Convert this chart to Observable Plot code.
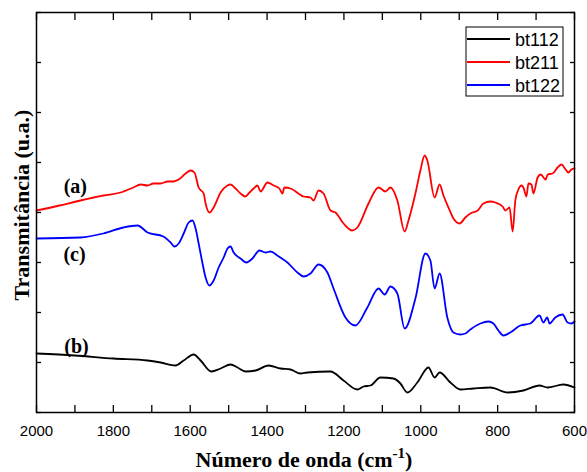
<!DOCTYPE html>
<html><head><meta charset="utf-8">
<script src="https://cdn.jsdelivr.net/npm/d3@7"></script>
<script src="https://cdn.jsdelivr.net/npm/@observablehq/plot@0.6"></script>
<style>body{margin:0;background:#fff}</style>
</head><body><div id="chart"></div>
<script>
// bt112 (black)
const wn112 = [2000,1901,1800,1711,1677,1638,1617,1591,1573,1545,1521,1495,1477,1456,1430,1396,1365,1339,1313,1295,1235,1201,1165,1149,1131,1105,1071,1053,1035,1009,980,964,951,923,897,863,819,774,733,691,670,629,600];
const t112  = [1.18,1.14,1.08,1.04,1.00,0.94,1.04,1.16,1.04,0.82,0.88,0.96,0.90,0.82,0.84,0.94,0.88,0.86,0.78,0.80,0.82,0.64,0.46,0.52,0.54,0.70,0.68,0.58,0.40,0.60,0.90,0.70,0.80,0.60,0.46,0.48,0.50,0.40,0.44,0.54,0.50,0.56,0.50];
// bt211 (red)
const wn211 = [2000,1940,1886,1826,1781,1748,1729,1711,1696,1677,1659,1643,1630,1612,1599,1589,1578,1565,1560,1550,1539,1521,1503,1495,1482,1469,1456,1448,1435,1425,1417,1399,1383,1368,1360,1355,1339,1305,1287,1279,1266,1253,1235,1222,1201,1178,1165,1136,1110,1092,1079,1061,1042,1032,1014,1001,990,983,964,951,941,928,915,899,884,871,852,837,819,806,787,780,769,761,754,746,738,733,725,720,712,707,696,688,675,670,657,644,634,623,616,608,600];
const t211  = [4.04,4.14,4.24,4.34,4.40,4.50,4.56,4.54,4.58,4.58,4.62,4.62,4.66,4.78,4.84,4.80,4.50,4.38,4.18,4.00,4.10,4.40,4.54,4.56,4.48,4.38,4.32,4.38,4.48,4.54,4.42,4.60,4.54,4.48,4.38,4.50,4.48,4.32,4.30,4.24,4.44,4.38,4.04,4.00,3.78,3.64,3.70,4.18,4.50,4.42,4.50,4.24,3.62,3.84,4.38,4.84,5.14,5.04,4.30,4.56,4.34,4.10,3.88,3.78,3.90,3.98,4.04,4.18,4.22,4.20,4.12,4.04,4.10,3.62,4.24,4.46,4.54,4.50,4.32,4.58,4.56,4.38,4.70,4.76,4.66,4.76,4.78,4.90,4.96,4.86,4.80,4.86,4.88];
// bt122 (blue)
const wn122 = [2000,1886,1826,1774,1737,1711,1670,1651,1641,1630,1617,1604,1594,1586,1578,1568,1560,1550,1539,1526,1513,1503,1495,1487,1469,1454,1438,1420,1404,1391,1373,1347,1321,1305,1287,1266,1243,1227,1196,1170,1139,1110,1094,1079,1061,1042,1014,988,975,964,951,931,915,897,884,871,845,824,811,798,785,767,741,715,691,681,671,665,650,631,618,608,600];
const t122  = [3.48,3.50,3.58,3.70,3.74,3.60,3.52,3.40,3.32,3.38,3.58,3.80,3.84,3.68,3.38,2.98,2.70,2.54,2.64,2.90,3.10,3.28,3.32,3.20,3.08,3.00,3.08,3.24,3.20,3.22,3.14,3.00,2.80,2.72,2.78,2.96,2.80,2.48,1.90,1.74,2.10,2.48,2.36,2.52,2.38,1.68,2.28,3.18,3.04,2.48,2.78,1.90,1.60,1.56,1.58,1.66,1.78,1.82,1.78,1.64,1.54,1.60,1.74,1.78,1.94,1.80,1.90,1.78,1.90,1.96,1.80,1.78,1.82];

const seriesNames = ["bt112", "bt211", "bt122"];
const seriesColors = ["#000000", "#ff0000", "#0000ff"];
const curveLabels = ["(a)", "(c)", "(b)"];
const labelWn = [1899, 1901, 1896];
const labelT = [4.52, 3.16, 1.32];
const xTicks = [2000, 1800, 1600, 1400, 1200, 1000, 800, 600];
const xMinor = [1900, 1700, 1500, 1300, 1100, 900, 700];
const yTicks = [0, 1, 2, 3, 4, 5, 6, 7, 8];

const toRows = (w, t) => w.map((x, i) => ({wn: x, t: t[i]}));
const series = [toRows(wn112, t112), toRows(wn211, t211), toRows(wn122, t122)];
const labels = curveLabels.map((s, i) => ({s, wn: labelWn[i], t: labelT[i]}));

const plot = Plot.plot({
  width: 587, height: 472,
  marginLeft: 36, marginRight: 13, marginTop: 12, marginBottom: 60,
  x: {domain: [2000, 600], label: null},
  y: {domain: [0, 8], label: null},
  style: {fontFamily: "'Liberation Sans', Arial, sans-serif", fontSize: "15px", color: "#000", background: "#fff"},
  marks: [
    Plot.axisX({anchor: "bottom", ticks: xTicks, tickSize: -7, tickPadding: 20, fontSize: 15, strokeWidth: 1.3, tickFormat: d => String(d)}),
    Plot.axisX({anchor: "bottom", ticks: xMinor, tickSize: -7, tickFormat: () => "", strokeWidth: 1.3}),
    Plot.axisX({anchor: "top", ticks: [...xTicks, ...xMinor], tickSize: -7, tickFormat: () => "", strokeWidth: 1.3}),
    Plot.axisY({anchor: "left", ticks: yTicks, tickSize: -5, tickFormat: () => "", strokeWidth: 1.3}),
    Plot.axisY({anchor: "right", ticks: yTicks, tickSize: -5, tickFormat: () => "", strokeWidth: 1.3}),
    ...series.map((rows, i) => Plot.line(rows, {x: "wn", y: "t", stroke: seriesColors[i], strokeWidth: 1.8, curve: "monotone-x"})),
    Plot.text(labels, {x: "wn", y: "t", text: "s", fontFamily: "'Liberation Serif', 'Times New Roman', serif", fontWeight: "bold", fontSize: 20}),
    Plot.frame({stroke: "#000", strokeWidth: 1.5})
  ]
});
document.getElementById("chart").appendChild(plot);

const svg = d3.select(plot);
// Axis titles
const xt = svg.append("text")
  .attr("x", 304).attr("y", 467).attr("text-anchor", "middle")
  .attr("font-family", "'Liberation Serif', 'Times New Roman', serif")
  .attr("font-weight", "bold").attr("font-size", 22).attr("fill", "#000");
xt.append("tspan").text("Número de onda (cm");
xt.append("tspan").attr("font-size", 15).attr("dy", -9).text("-1");
xt.append("tspan").attr("dy", 9).text(")");

svg.append("text")
  .attr("transform", "translate(29,205) rotate(-90)").attr("text-anchor", "middle")
  .attr("font-family", "'Liberation Serif', 'Times New Roman', serif")
  .attr("font-weight", "bold").attr("font-size", 22).attr("fill", "#000")
  .text("Transmitância (u.a.)");

// Legend
const lg = svg.append("g");
lg.append("rect").attr("x", 466).attr("y", 27).attr("width", 97).attr("height", 69)
  .attr("fill", "#fff").attr("stroke", "#000").attr("stroke-width", 1);
seriesNames.forEach((name, i) => {
  const cy = 39 + i * 23;
  lg.append("line").attr("x1", 467).attr("x2", 510).attr("y1", cy).attr("y2", cy)
    .attr("stroke", seriesColors[i]).attr("stroke-width", 1.8);
  lg.append("text").attr("x", 515).attr("y", cy + 6.5).attr("text-anchor", "start")
    .attr("font-family", "'Liberation Sans', Arial, sans-serif").attr("font-size", 18).attr("fill", "#000")
    .text(name);
});
</script>
</body></html>
